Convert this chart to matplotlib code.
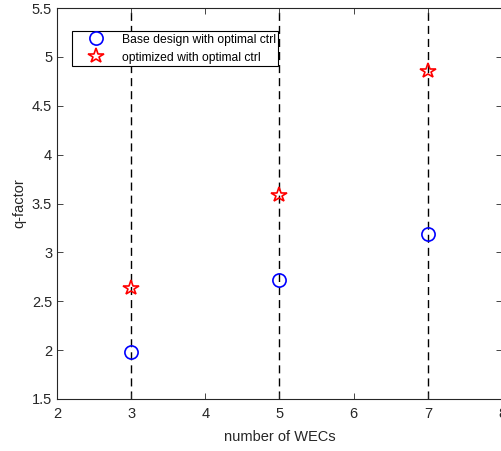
import matplotlib
matplotlib.use("Agg")
import matplotlib.pyplot as plt

plt.rcParams['font.family'] = ['Liberation Sans', 'DejaVu Sans']

wecs = [3, 5, 7]
base_q = [1.98, 2.72, 3.19]
opt_q = [2.64, 3.59, 4.86]
xticks = [2, 3, 4, 5, 6, 7, 8]
yticks = [1.5, 2, 2.5, 3, 3.5, 4, 4.5, 5, 5.5]

fig = plt.figure(figsize=(5.01, 4.51), dpi=100)
ax = fig.add_axes([57/501, 52/451, 445/501, 391/451])

for x in wecs:
    ax.axvline(x, color='black', linestyle=(0, (5.8, 3.6)), linewidth=1.0, zorder=1)

ax.plot(wecs, base_q, linestyle='none', marker='o', markersize=9.5,
        markerfacecolor='none', markeredgecolor='#0000ff', markeredgewidth=1.2,
        label='Base design with optimal ctrl', zorder=3)
ax.plot(wecs, opt_q, linestyle='none', marker='*', markersize=11.5,
        markerfacecolor='none', markeredgecolor='#ff0000', markeredgewidth=1.2,
        label='optimized with optimal ctrl', zorder=3)

ax.set_xlim(2, 8)
ax.set_ylim(1.5, 5.5)
ax.set_xticks(xticks)
ax.set_xticklabels([str(v) for v in xticks])
ax.set_yticks(yticks)
ax.set_yticklabels([f"{v:g}" for v in yticks])
ax.tick_params(direction='in', length=4, width=0.6, colors='#262626',
               labelsize=10.5, top=True, right=True)
ax.tick_params(axis='x', pad=5.5)
for s in ax.spines.values():
    s.set_linewidth(0.8)
    s.set_color('#262626')

ax.set_xlabel('number of WECs', fontsize=10.5, color='#262626', labelpad=7)
ax.set_ylabel('q-factor', fontsize=10.5, color='#262626')

leg = ax.legend(loc='upper left', bbox_to_anchor=(15/445, 1 - 23/391),
                borderaxespad=0, fontsize=8.7, frameon=True, fancybox=False,
                framealpha=1, edgecolor='black', borderpad=0.22,
                handletextpad=0.4, labelspacing=0.5, handlelength=3.5)
leg.get_frame().set_linewidth(0.8)

fig.savefig('out.png', dpi=100)
